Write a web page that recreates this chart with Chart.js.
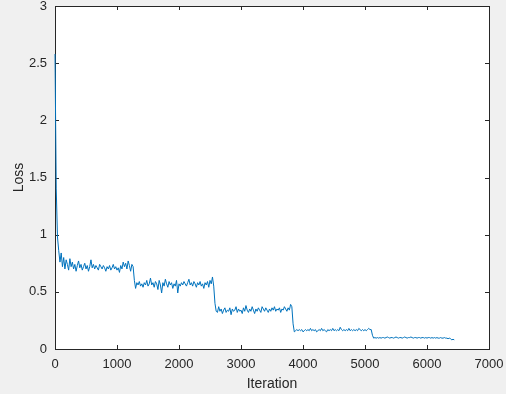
<!DOCTYPE html>
<html>
<head>
<meta charset="utf-8">
<script src="https://cdn.jsdelivr.net/npm/chart.js@4"></script>
<style>
  html, body { margin: 0; padding: 0; background: #f0f0f0; }
  canvas { display: block; }
</style>
</head>
<body>
<canvas id="lossChart" width="506" height="394"></canvas>
<script>
const iterStep = 20;
const lossStage1 = [
  2.58,1.40,0.98,0.86,0.76,0.84,0.72,0.80,0.70,0.78,
  0.74,0.69,0.79,0.72,0.76,0.70,0.74,0.68,0.73,0.77,
  0.71,0.74,0.69,0.72,0.75,0.70,0.73,0.68,0.72,0.78,
  0.71,0.74,0.70,0.73,0.71,0.69,0.74,0.72,0.70,0.73,
  0.71,0.68,0.72,0.70,0.73,0.69,0.71,0.74,0.70,0.72,
  0.69,0.71,0.67,0.73,0.70,0.76,0.72,0.75,0.70,0.77,
  0.73,0.68,0.74,0.72
];
const lossStage2 = [
  0.60,0.53,0.58,0.56,0.59,0.55,0.57,0.54,0.58,0.56,
  0.60,0.55,0.57,0.62,0.56,0.58,0.54,0.59,0.57,0.52,
  0.60,0.56,0.49,0.58,0.55,0.61,0.57,0.54,0.59,0.56,
  0.58,0.53,0.57,0.55,0.60,0.49,0.57,0.55,0.58,0.56,
  0.59,0.57,0.55,0.58,0.61,0.56,0.58,0.55,0.59,0.57,
  0.54,0.58,0.56,0.59,0.55,0.57,0.53,0.58,0.56,0.59,
  0.54,0.60,0.57,0.63
];
const lossStage3 = [
  0.55,0.40,0.33,0.32,0.37,0.33,0.35,0.31,0.34,0.36,
  0.32,0.34,0.33,0.36,0.30,0.35,0.33,0.34,0.37,0.32,
  0.35,0.33,0.34,0.31,0.36,0.33,0.38,0.34,0.32,0.35,
  0.33,0.37,0.34,0.31,0.35,0.33,0.36,0.34,0.32,0.37,
  0.35,0.33,0.36,0.34,0.32,0.35,0.33,0.36,0.34,0.37,
  0.33,0.35,0.34,0.36,0.32,0.35,0.34,0.37,0.35,0.33,
  0.36,0.34,0.39,0.37
];
const lossStage4 = [
  0.22,0.15,0.16,0.17,0.16,0.17,0.16,0.17,0.15,0.16,
  0.17,0.16,0.17,0.16,0.18,0.16,0.17,0.16,0.17,0.15,
  0.16,0.17,0.16,0.18,0.16,0.17,0.16,0.15,0.17,0.16,
  0.17,0.16,0.18,0.16,0.17,0.16,0.17,0.16,0.19,0.17,
  0.16,0.17,0.16,0.17,0.16,0.18,0.16,0.17,0.16,0.17,
  0.16,0.17,0.16,0.18,0.17,0.16,0.17,0.16,0.17,0.16,
  0.17,0.18,0.17,0.17
];
const lossStage5 = [
  0.12,0.095,0.10,0.095,0.10,0.095,0.10,0.095,0.10,0.10,
  0.095,0.10,0.105,0.10,0.095,0.10,0.10,0.095,0.10,0.105,
  0.10,0.095,0.10,0.10,0.095,0.10,0.105,0.10,0.095,0.10,
  0.10,0.105,0.10,0.095,0.10,0.10,0.095,0.10,0.10,0.095,
  0.10,0.10,0.095,0.10,0.095,0.10,0.10,0.095,0.10,0.095,
  0.10,0.095,0.10,0.095,0.095,0.10,0.095,0.095,0.10,0.095,
  0.095,0.09,0.095,0.09,0.08,0.085,0.08
];
const xTicks = [0, 1000, 2000, 3000, 4000, 5000, 6000, 7000];
const yTicks = [0, 0.5, 1, 1.5, 2, 2.5, 3];

const loss = [].concat(lossStage1, lossStage2, lossStage3, lossStage4, lossStage5);
const points = loss.map((v, i) => ({ x: i * iterStep, y: v }));

const axisColor = '#262626';
const fontFamily = '"Liberation Sans", Arial, sans-serif';

// MATLAB-like box with inward ticks on all four sides, drawn under the line
const boxPlugin = {
  id: 'matlabBox',
  beforeDatasetsDraw(chart) {
    const { ctx, chartArea: a, scales } = chart;
    const len = 4;
    ctx.save();
    ctx.fillStyle = '#ffffff';
    ctx.fillRect(a.left, a.top, a.right - a.left, a.bottom - a.top);
    ctx.strokeStyle = axisColor;
    ctx.lineWidth = 1;
    ctx.beginPath();
    xTicks.forEach(t => {
      const px = Math.round(scales.x.getPixelForValue(t)) + 0.5;
      ctx.moveTo(px, a.bottom); ctx.lineTo(px, a.bottom - len);
      ctx.moveTo(px, a.top); ctx.lineTo(px, a.top + len);
    });
    yTicks.forEach(t => {
      const py = Math.round(scales.y.getPixelForValue(t)) + 0.5;
      ctx.moveTo(a.left, py); ctx.lineTo(a.left + len, py);
      ctx.moveTo(a.right, py); ctx.lineTo(a.right - len, py);
    });
    ctx.stroke();
    ctx.strokeRect(Math.round(a.left) + 0.5, Math.round(a.top) + 0.5,
      Math.round(a.right - a.left), Math.round(a.bottom - a.top));
    ctx.restore();
  }
};

new Chart(document.getElementById('lossChart'), {
  type: 'line',
  data: {
    datasets: [{
      data: points,
      borderColor: '#0072BD',
      borderWidth: 1,
      pointRadius: 0,
      tension: 0,
      fill: false,
      clip: 2
    }]
  },
  options: {
    responsive: false,
    animation: false,
    layout: { padding: { left: 0, right: 17, top: 6, bottom: 0 } },
    plugins: { legend: { display: false }, tooltip: { enabled: false } },
    scales: {
      x: {
        type: 'linear',
        min: 0,
        max: 7000,
        afterFit: s => { s.height = 45; s.paddingLeft = 0; s.paddingRight = 0; },
        afterBuildTicks: s => { s.ticks = xTicks.map(v => ({ value: v })); },
        grid: { display: false, drawTicks: false, tickLength: 0 },
        border: { display: false },
        ticks: {
          color: axisColor,
          font: { family: fontFamily, size: 13 },
          padding: 8,
          maxRotation: 0,
          callback: v => String(v)
        },
        title: {
          display: true,
          text: 'Iteration',
          color: axisColor,
          font: { family: fontFamily, size: 14 },
          padding: { top: 2, bottom: 1 }
        }
      },
      y: {
        type: 'linear',
        min: 0,
        max: 3,
        afterFit: s => { s.width = 55; s.paddingTop = 0; s.paddingBottom = 0; },
        afterBuildTicks: s => { s.ticks = yTicks.map(v => ({ value: v })); },
        grid: { display: false, drawTicks: false, tickLength: 0 },
        border: { display: false },
        ticks: {
          color: axisColor,
          font: { family: fontFamily, size: 13 },
          padding: 8,
          callback: v => String(v)
        },
        title: {
          display: true,
          text: 'Loss',
          color: axisColor,
          font: { family: fontFamily, size: 14 },
          padding: { top: 11, bottom: 4 }
        }
      }
    }
  },
  plugins: [boxPlugin]
});
</script>
</body>
</html>
